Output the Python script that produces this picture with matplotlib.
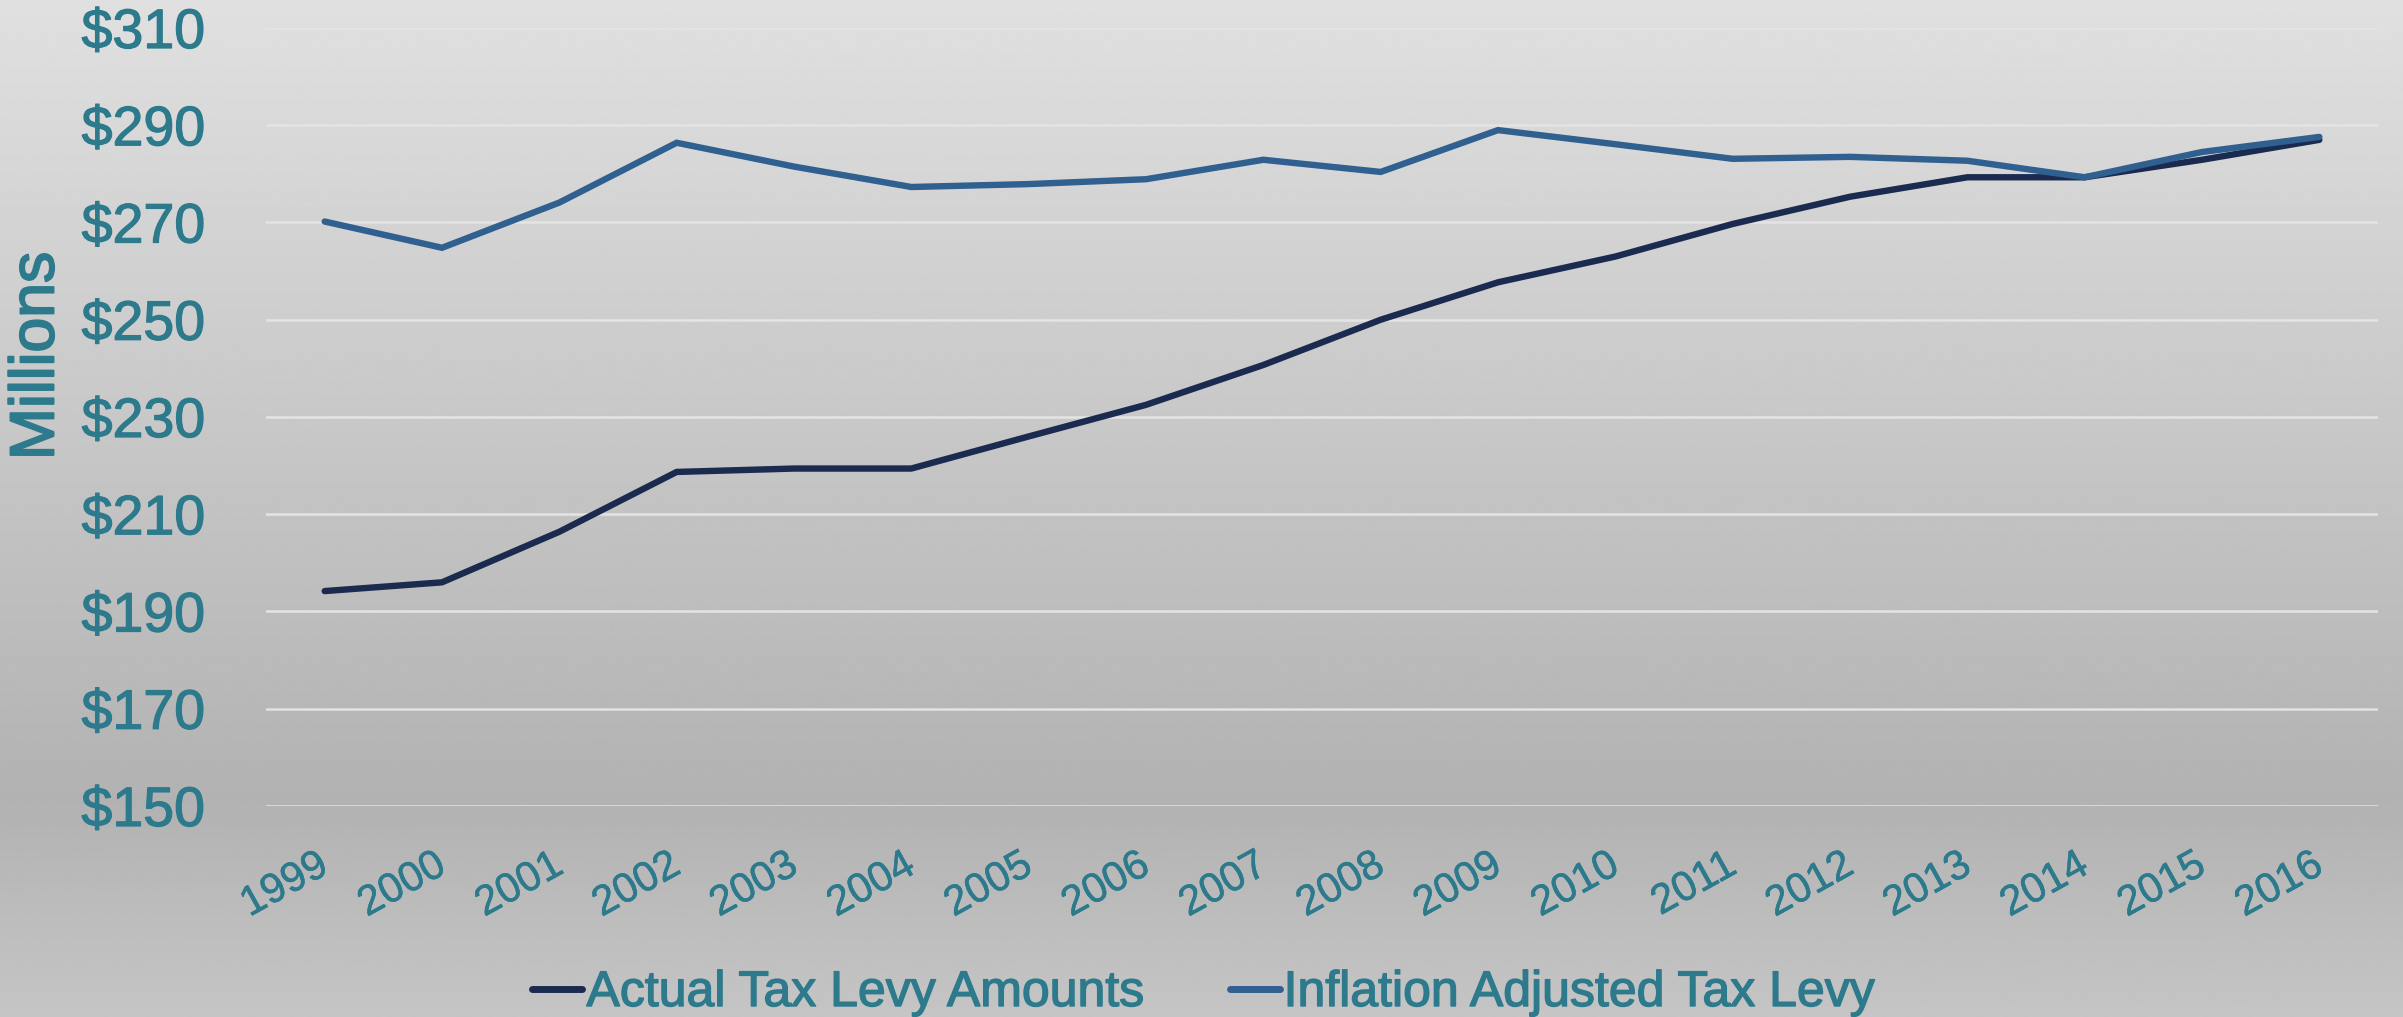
import numpy as np
import matplotlib
matplotlib.use("Agg")
import matplotlib.pyplot as plt
import matplotlib.patheffects as pe
import matplotlib.transforms as mtransforms

# Dados (milhões de dólares)
years = ['1999', '2000', '2001', '2002', '2003', '2004', '2005', '2006', '2007',
         '2008', '2009', '2010', '2011', '2012', '2013', '2014', '2015', '2016']
actual_levy = [194.2, 196.0, 206.4, 218.7, 219.4, 219.4, 226.0, 232.5, 240.7,
               250.0, 257.7, 263.0, 269.7, 275.3, 279.3, 279.3, 282.9, 287.0]
inflation_levy = [270.2, 264.8, 274.1, 286.4, 281.5, 277.3, 277.9, 278.9, 282.9,
                  280.4, 289.0, 286.1, 283.1, 283.5, 282.7, 279.3, 284.5, 287.6]
y_ticks = [150, 170, 190, 210, 230, 250, 270, 290, 310]

teal = '#2C7A8C'
plt.rcParams['font.family'] = ['Liberation Sans', 'DejaVu Sans']

def thick(w):
    return [pe.withStroke(linewidth=w, foreground=teal)]

fig = plt.figure(figsize=(24.03, 10.17), dpi=100)

# Fundo em degradê cinza
bg = fig.add_axes([0, 0, 1, 1], zorder=-10)
rows = np.linspace(0, 1017, 400)
shade = np.interp(rows, [0, 800, 1017], [224, 178, 197]) / 255.0
img = np.repeat(shade[:, None], 2, axis=1)
bg.imshow(img, cmap='gray', vmin=0, vmax=1, aspect='auto', extent=[0, 1, 0, 1])
bg.axis('off')

ax = fig.add_axes([266 / 2403, 1 - 806 / 1017, (2378 - 266) / 2403, (806 - 28) / 1017])
ax.patch.set_alpha(0)

x = np.arange(len(years))
ax.plot(x, actual_levy, color='#1A2B4F', lw=4.6, solid_capstyle='round',
        solid_joinstyle='miter', label='Actual Tax Levy Amounts', zorder=3)
ax.plot(x, inflation_levy, color='#30608F', lw=4.6, solid_capstyle='round',
        solid_joinstyle='miter', label='Inflation Adjusted Tax Levy', zorder=4)

ax.set_xlim(-0.5, len(years) - 0.5)
ax.set_ylim(150, 310)
ax.set_yticks(y_ticks)
ax.set_yticklabels(['$%d' % v for v in y_ticks])
ax.set_xticks(x)
ax.set_xticklabels(years, rotation=29, ha='right', va='top', rotation_mode='anchor')

ax.grid(axis='y', color='#E4E4E4', lw=1.8, zorder=1)
ax.set_axisbelow(True)
for s in ax.spines.values():
    s.set_visible(False)
ax.tick_params(axis='y', length=0, pad=44, labelsize=40, labelcolor=teal)
ax.tick_params(axis='x', length=0, pad=28, labelsize=30, labelcolor=teal)
for t in ax.get_yticklabels():
    t.set_path_effects(thick(0.9))
# deslocar rótulos do eixo x um pouco para a esquerda
shift = mtransforms.ScaledTranslation(-9 / 100, 0, fig.dpi_scale_trans)
for t in ax.get_xticklabels():
    t.set_path_effects(thick(0.4))
    t.set_transform(t.get_transform() + shift)

fig.text(37 / 2403, 1 - 356 / 1017, 'Millions', rotation=90, ha='center', va='center',
         fontsize=45, color=teal, path_effects=thick(1.4))

leg = fig.legend(loc='center', bbox_to_anchor=(0.501, 1 - 993 / 1017), ncol=2,
                 frameon=False, fontsize=36, handlelength=1.0, handletextpad=0.08,
                 columnspacing=1.7, borderpad=0)
for t in leg.get_texts():
    t.set_color(teal)
    t.set_path_effects(thick(1.0))
for h in leg.get_lines():
    h.set_linewidth(5)
    h.set_solid_capstyle('round')

fig.savefig('out.png', dpi=100)
